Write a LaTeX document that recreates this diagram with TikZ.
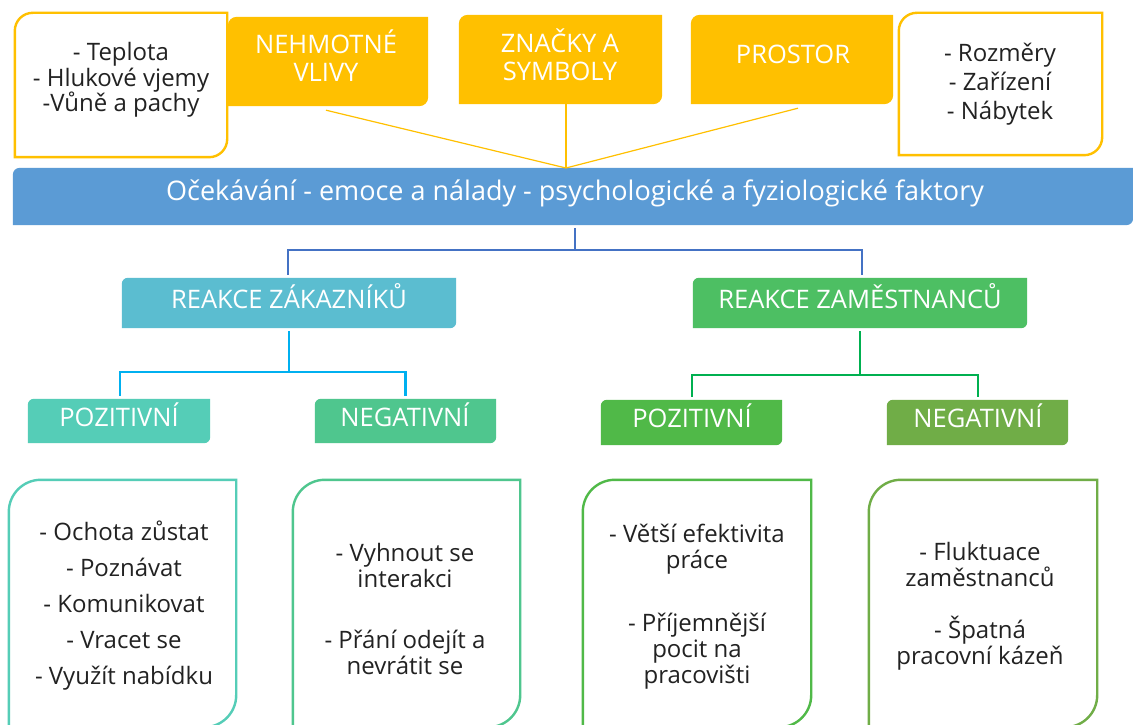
\documentclass[tikz,border=0pt]{standalone}
\usepackage{fontspec}
\setmainfont{Open Sans}
\usetikzlibrary{calc,backgrounds}

\definecolor{ygold}{HTML}{FFC000}
\definecolor{barblue}{HTML}{5B9BD5}
\definecolor{conblue}{HTML}{4472C4}
\definecolor{zakteal}{HTML}{5BBDD0}
\definecolor{concyan}{HTML}{00B0F0}
\definecolor{zamgreen}{HTML}{4DBF63}
\definecolor{congreen}{HTML}{00B050}
\definecolor{zpos}{HTML}{55CDB7}
\definecolor{zneg}{HTML}{4FC68E}
\definecolor{mpos}{HTML}{50B948}
\definecolor{mneg}{HTML}{70AD47}
\definecolor{textgray}{HTML}{222222}

% box with rounded top-left and bottom-right corners
\newcommand{\leafbox}[3]{%
  \path[#3] ($(#1.north west)+(0,-#2)$) arc[start angle=180,end angle=90,radius=#2]
    -- (#1.north east) -- ($(#1.south east)+(0,#2)$)
    arc[start angle=0,end angle=-90,radius=#2] -- (#1.south west) -- cycle;}

\tikzset{
  area/.style={rectangle, inner sep=0, minimum width=#1},
  txt/.style={text=textgray, align=center, inner sep=0,
    font=\fontsize{24}{26}\selectfont},
  lbl/.style={text=white, align=center, inner sep=0,
    font=\fontsize{25.5}{28}\selectfont},
  yline/.style={draw=ygold, line width=1.2pt},
  bcon/.style={draw=conblue, line width=2.4pt},
  ccon/.style={draw=concyan, line width=2.6pt},
  gcon/.style={draw=congreen, line width=2.6pt},
}

\begin{document}
\begin{tikzpicture}[x=1pt,y=1pt]
\useasboundingbox (0,0) rectangle (1133,724);
\begin{scope}[on background layer]
  \fill[white] (0,0) rectangle (1133,724);
\end{scope}

% --- top row ---
\node[area=212, minimum height=144] (tl) at (121,639) {};
\node[txt, font=\fontsize{24}{25.5}\selectfont] (tlt) at (121,644)
  {- Teplota\\- Hlukové vjemy\\-Vůně a pachy};
\node[area=200, minimum height=89] (nehm) at (328,662.5) {};
\node[lbl] (nehmt) at (326,668) {NEHMOTNÉ\\VLIVY};
\node[area=203, minimum height=89] (znac) at (560.5,664.5) {};
\node[lbl] (znact) at (560,669) {ZNAČKY A\\SYMBOLY};
\node[area=202, minimum height=89] (pros) at (792,664.5) {};
\node[lbl] (prost) at (793,670) {PROSTOR};
\node[area=203, minimum height=142] (tr) at (1000.5,640) {};
\node[txt, font=\fontsize{24}{29}\selectfont] (trt) at (1000,640)
  {- Rozměry\\- Zařízení\\- Nábytek};

% --- central bar ---
\node[area=1120, minimum height=57] (bar) at (573,527.5) {};
\node[lbl, font=\fontsize{27}{28}\selectfont] (bart) at (575,530.5)
  {Očekávání - emoce a nálady - psychologické a fyziologické faktory};

% --- reactions ---
\node[area=334, minimum height=50] (rz) at (289,421) {};
\node[lbl] (rzt) at (289,427.5) {REAKCE ZÁKAZNÍKŮ};
\node[area=334, minimum height=50] (rm) at (860,421) {};
\node[lbl] (rmt) at (860,427.5) {REAKCE ZAMĚSTNANCŮ};

\node[area=182, minimum height=44] (zp) at (119,303) {};
\node[lbl] (zpt) at (119,309) {POZITIVNÍ};
\node[area=181, minimum height=44] (zn) at (405.5,303) {};
\node[lbl] (znt) at (405,309) {NEGATIVNÍ};
\node[area=181, minimum height=45] (mp) at (691.5,301.5) {};
\node[lbl] (mpt) at (692,308.5) {POZITIVNÍ};
\node[area=181, minimum height=45] (mn) at (977.5,301.5) {};
\node[lbl] (mnt) at (978,308.5) {NEGATIVNÍ};

% --- detail boxes ---
\node[area=227, minimum height=247] (b1) at (122.5,120.5) {};
\node[txt, font=\fontsize{24}{36}\selectfont] (b1t) at (124,118)
  {- Ochota zůstat\\- Poznávat\\- Komunikovat\\- Vracet se\\- Využít nabídku};
\node[area=227, minimum height=247] (b2) at (406.5,120.5) {};
\node[txt] (b2t) at (405,115.5)
  {- Vyhnout se\\interakci\\[35pt]- Přání odejít a\\nevrátit se};
\node[area=228, minimum height=247] (b3) at (697,120.5) {};
\node[txt] (b3t) at (697,117.5)
  {- Větší efektivita\\práce\\[37pt]- Příjemnější\\pocit na\\pracovišti};
\node[area=228, minimum height=247] (b4) at (983,120.5) {};
\node[txt] (b4t) at (980,118)
  {- Fluktuace\\zaměstnanců\\[26pt]- Špatná\\pracovní kázeň};

% --- shapes behind the texts ---
\begin{scope}[on background layer]
  \leafbox{tl}{18}{fill=white, draw=ygold, line width=2.4pt}
  \leafbox{tr}{18}{fill=white, draw=ygold, line width=2.4pt}
  \leafbox{nehm}{9}{fill=ygold}
  \leafbox{znac}{9}{fill=ygold}
  \leafbox{pros}{9}{fill=ygold}
  \leafbox{bar}{7}{fill=barblue}
  \leafbox{rz}{6}{fill=zakteal}
  \leafbox{rm}{6}{fill=zamgreen}
  \leafbox{zp}{6}{fill=zpos}
  \leafbox{zn}{6}{fill=zneg}
  \leafbox{mp}{6}{fill=mpos}
  \leafbox{mn}{6}{fill=mneg}
  \leafbox{b1}{32}{fill=white, draw=zpos, line width=2.4pt}
  \leafbox{b2}{32}{fill=white, draw=zneg, line width=2.4pt}
  \leafbox{b3}{32}{fill=white, draw=mpos, line width=2.4pt}
  \leafbox{b4}{32}{fill=white, draw=mneg, line width=2.4pt}
\end{scope}

% --- connectors ---
\coordinate (join) at (566,556);
\draw[yline] ($(nehm.south)+(-2,-4)$) -- (join);
\draw[yline] (znac.south -| join) -- (join);
\draw[yline] ($(pros.south)+(6,-4)$) -- (join);

\coordinate (bsplit) at (575,474);
\draw[bcon] ($(bar.south -| bsplit)+(0,-3)$) -- (bsplit);
\draw[bcon] (bsplit) -| ($(rz.north)+(-1,3)$);
\draw[bcon] (bsplit) -| ($(rm.north)+(2,3)$);

\coordinate (zsplit) at (289,352);
\draw[ccon] ($(rz.south)+(0,-3)$) -- (zsplit);
\draw[ccon] (zsplit) -| ($(zp.north)+(1,3)$);
\draw[ccon] (zsplit) -| ($(zn.north)+(0,3)$);

\coordinate (msplit) at (860,349);
\draw[gcon] ($(rm.south)+(0,-3)$) -- (msplit);
\draw[gcon] (msplit) -| ($(mp.north)+(0.5,3)$);
\draw[gcon] (msplit) -| ($(mn.north)+(0.5,3)$);
\end{tikzpicture}
\end{document}
